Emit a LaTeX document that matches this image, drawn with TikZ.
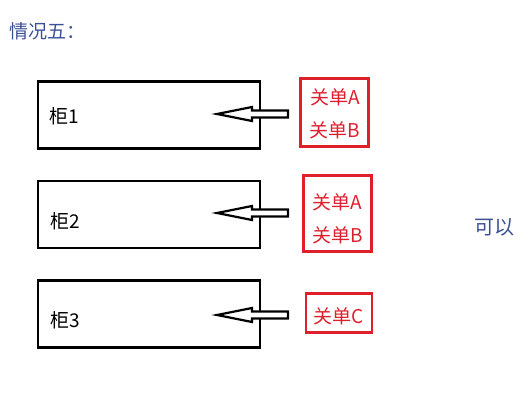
\documentclass[tikz,border=0pt]{standalone}
\usepackage{fontspec}
\setmainfont{Noto Sans CJK SC}
\begin{document}
\begin{tikzpicture}[x=1pt,y=-1pt,
  cabinet/.style={draw=black,line width=2.6pt,minimum width=222pt,minimum height=67pt,inner sep=0pt},
  docbox/.style={draw=redc,line width=2.2pt,inner sep=0pt},
  doctext/.style={text=redc,inner sep=0pt,align=center,font=\fontsize{19}{33}\selectfont},
  lbl/.style={font=\fontsize{19}{21}\selectfont,anchor=west,inner sep=0pt},
  blockarrow/.style={draw=black,line width=2.2pt,fill=white,line join=miter}]
\definecolor{redc}{RGB}{222,32,44}
\definecolor{bluec}{RGB}{60,80,150}
\useasboundingbox (0,0) rectangle (523,409);
\node[anchor=west,text=bluec,inner sep=0pt,font=\fontsize{19}{22}\selectfont] (title) at (9,31) {情况五：};
\node[cabinet] (c1) at (149,115) {};
\node[cabinet] (c2) at (149,214.5) {};
\node[cabinet] (c3) at (149,314) {};
\node[lbl] (l1) at (49,116) {柜1};
\node[lbl] (l2) at (50,221) {柜2};
\node[lbl] (l3) at (50,320) {柜3};
\node[docbox,minimum width=68pt,minimum height=68pt] (d1) at (334.5,112.5) {};
\node[docbox,minimum width=68pt,minimum height=76pt] (d2) at (337.5,213.5) {};
\node[docbox,minimum width=66pt,minimum height=39pt] (d3) at (339,313) {};
\node[doctext] (t1) at (335,113.5) {关单A\\关单B};
\node[doctext] (t2) at (337.5,219) {关单A\\关单B};
\node[doctext] (t3) at (339,316) {关单C};
\node[text=bluec,inner sep=0pt,font=\fontsize{20}{22}\selectfont] (ok) at (494,227) {可以};
\foreach \i/\y in {1/114,2/213,3/315}{
  \coordinate (a\i) at (217,\y);
  \draw[blockarrow] (a\i) -- ++(35,-7) -- ++(0,3.5) -- ++(36,0) -- ++(0,7) -- ++(-36,0) -- ++(0,3.5) -- cycle;
}
\end{tikzpicture}
\end{document}
